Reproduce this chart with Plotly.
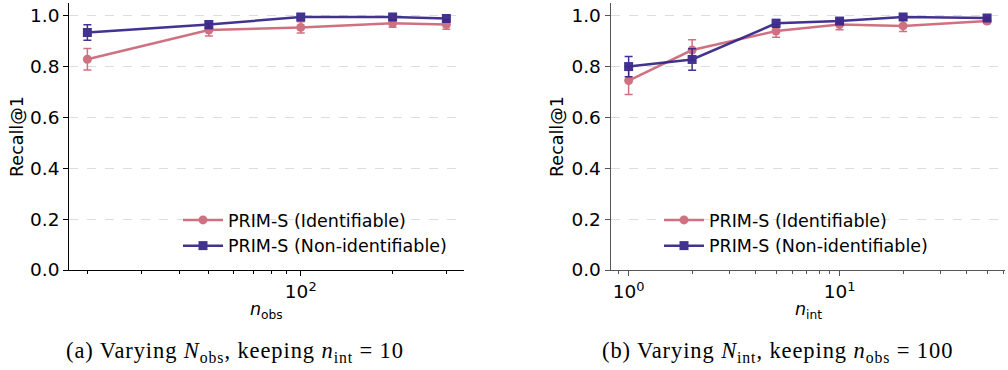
import math
import plotly.graph_objects as go

# ---- data ----
n_obs = [20, 50, 100, 200, 300]
obs_ident = [0.829, 0.944, 0.954, 0.970, 0.965]
obs_ident_err = [0.042, 0.024, 0.022, 0.015, 0.018]
obs_nonid = [0.934, 0.965, 0.995, 0.995, 0.989]
obs_nonid_err = [0.030, 0.015, 0.005, 0.005, 0.006]

n_int = [1, 2, 5, 10, 20, 50]
int_ident = [0.745, 0.865, 0.940, 0.965, 0.960, 0.979]
int_ident_err = [0.055, 0.040, 0.025, 0.020, 0.022, 0.010]
int_nonid = [0.800, 0.828, 0.970, 0.979, 0.995, 0.991]
int_nonid_err = [0.040, 0.042, 0.015, 0.010, 0.005, 0.005]

y_ticks = [0.0, 0.2, 0.4, 0.6, 0.8, 1.0]
y_ticklabels = ["0.0", "0.2", "0.4", "0.6", "0.8", "1.0"]
major_a = [100]
major_b = [1, 10]
minor_a = [20, 30, 40, 50, 60, 70, 80, 90, 200, 300]
minor_b = [0.9, 2, 3, 4, 5, 6, 7, 8, 9, 20, 30, 40, 50, 60]
label_ident = "PRIM-S (Identifiable)"
label_nonid = "PRIM-S (Non-identifiable)"
caption_a = "(a) Varying <i>N</i><sub>obs</sub>, keeping <i>n</i><sub>int</sub> = 10"
caption_b = "(b) Varying <i>N</i><sub>int</sub>, keeping <i>n</i><sub>obs</sub> = 100"

PINK = "#cc6677"
BLUE = "#332288"
FONT = "DejaVu Sans"
FS_TICK = 18.5
FS = 17.5

fig = go.Figure()

def add(x, y, err, color, symbol, name, xa, ya, legend):
    fig.add_trace(go.Scatter(
        x=x, y=y, mode="lines+markers", name=name,
        xaxis=xa, yaxis=ya, legend=legend,
        line=dict(color=color, width=2.5),
        marker=dict(color=color, symbol=symbol, size=9),
        error_y=dict(type="data", array=err, color=color, thickness=1.5, width=4),
        opacity=0.92,
    ))

add(n_obs, obs_ident, obs_ident_err, PINK, "circle", label_ident, "x", "y", "legend")
add(n_obs, obs_nonid, obs_nonid_err, BLUE, "square", label_nonid, "x", "y", "legend")
add(n_int, int_ident, int_ident_err, PINK, "circle", label_ident, "x2", "y2", "legend2")
add(n_int, int_nonid, int_nonid_err, BLUE, "square", label_nonid, "x2", "y2", "legend2")

W, H = 1008, 370
top_px, bot_px = 3, 270
ydom = [1 - bot_px / H, 1 - top_px / H]

def xaxis(dom, rng, major, minor, axcolor, anchor):
    return dict(
        domain=dom, type="log", range=rng, showgrid=False, zeroline=False,
        showline=True, linecolor=axcolor, linewidth=1.2, automargin=False,
        ticks="outside", ticklen=5, tickwidth=1, tickcolor=axcolor,
        tickvals=major, ticktext=["10<sup>%d</sup>" % int(round(math.log10(v))) for v in major],
        tickfont=dict(family=FONT, size=FS_TICK, color="black"),
        minor=dict(tickvals=minor, ticks="outside", ticklen=3, tickwidth=0.8, tickcolor=axcolor, showgrid=False),
        anchor=anchor,
    )

def yaxis(dom, axcolor, anchor):
    return dict(
        domain=dom, range=[0, 1.05], anchor=anchor, automargin=False,
        tickvals=y_ticks, ticktext=y_ticklabels,
        showgrid=True, gridcolor="#dddddd", griddash="dash", gridwidth=0.8,
        zeroline=False, showline=True, linecolor=axcolor, linewidth=1.2,
        ticks="outside", ticklen=5, tickwidth=1, tickcolor=axcolor,
        tickfont=dict(family=FONT, size=FS_TICK, color="black"),
    )

fig.update_layout(
    width=W, height=H, margin=dict(l=0, r=0, t=0, b=0, autoexpand=False),
    paper_bgcolor="white", plot_bgcolor="white",
    xaxis=xaxis([69.3 / W, 464.3 / W], [1.2418, 2.5359], major_a, minor_a, "black", "y"),
    yaxis=yaxis(ydom, "black", "x"),
    xaxis2=xaxis([610.7 / W, 1005 / W], [-0.085, 1.784], major_b, minor_b, "#555555", "y2"),
    yaxis2=yaxis(ydom, "#555555", "x2"),
    legend=dict(x=178 / W, y=1 - 202 / H, xanchor="left", yanchor="top",
                font=dict(family=FONT, size=FS, color="black"),
                bgcolor="rgba(0,0,0,0)", tracegroupgap=0, itemwidth=40),
    legend2=dict(x=(178 + 481) / W, y=1 - 202 / H, xanchor="left", yanchor="top",
                 font=dict(family=FONT, size=FS, color="black"),
                 bgcolor="rgba(0,0,0,0)", tracegroupgap=0, itemwidth=40),
)

ann_font = dict(family=FONT, size=FS, color="black")
anns = [
    dict(x=17 / W, y=1 - 137 / H, text="Recall@1", textangle=-90),
    dict(x=557 / W, y=1 - 137 / H, text="Recall@1", textangle=-90),
    dict(x=266.8 / W, y=1 - 310 / H, text="<i>n</i><sub>obs</sub>"),
    dict(x=808 / W, y=1 - 310 / H, text="<i>n</i><sub>int</sub>"),
]
for a in anns:
    fig.add_annotation(xref="paper", yref="paper", showarrow=False,
                       xanchor="center", yanchor="middle", font=ann_font, **a)
cap_font = dict(family="Liberation Serif", size=22.5, color="black")
for cx, txt in [(235, caption_a), (777, caption_b)]:
    fig.add_annotation(xref="paper", yref="paper", x=cx / W, y=1 - 352 / H,
                       text='<span style="letter-spacing:0.9px">' + txt + '</span>',
                       showarrow=False, xanchor="center", yanchor="middle", font=cap_font)

fig.write_html("out.html")
